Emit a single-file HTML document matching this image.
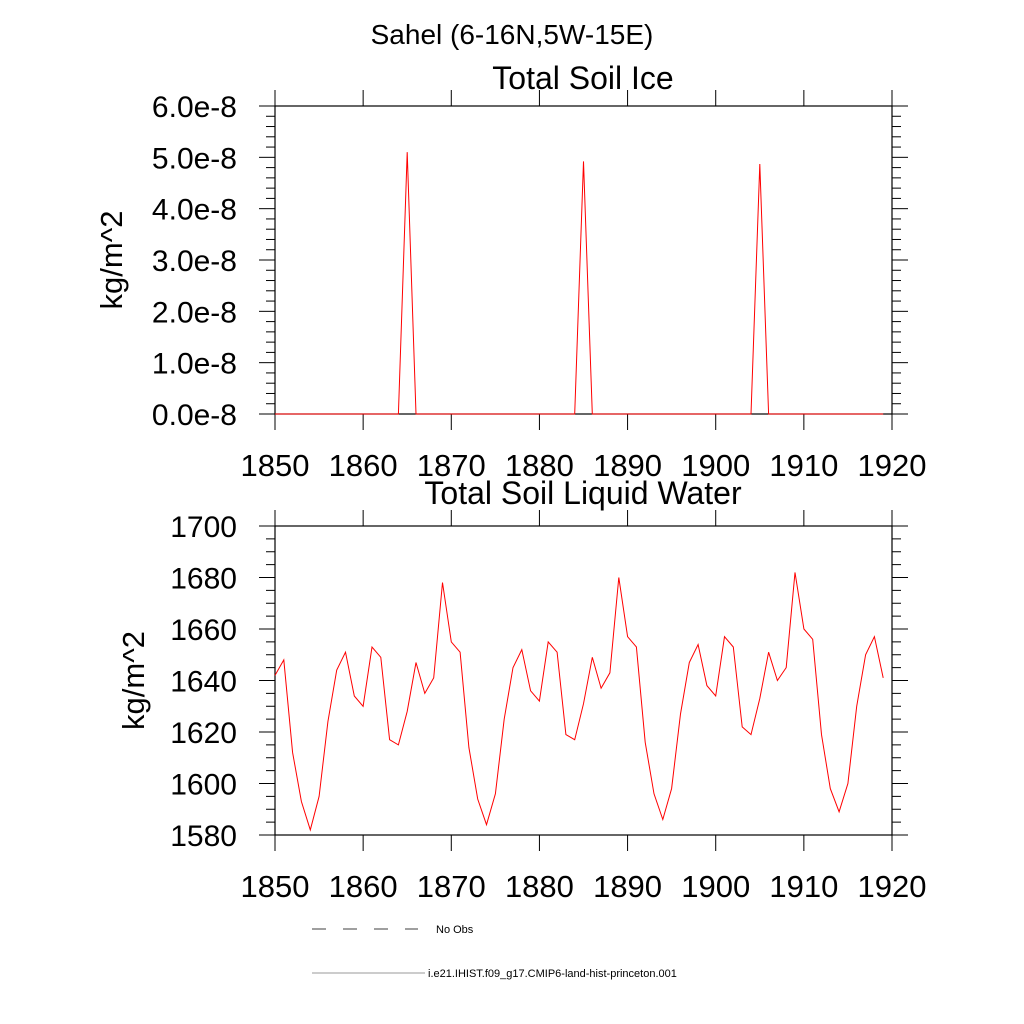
<!DOCTYPE html>
<html><head><meta charset="utf-8"><style>body{margin:0;background:#fff}svg{display:block}text{font-family:"Liberation Sans",sans-serif}</style></head>
<body>
<svg id="c" width="1024" height="1024" xmlns="http://www.w3.org/2000/svg">
<text x="512" y="44" font-size="28" text-anchor="middle">Sahel (6-16N,5W-15E)</text>
<text x="583" y="89" font-size="32" text-anchor="middle">Total Soil Ice</text>
<text x="583" y="504" font-size="32" text-anchor="middle">Total Soil Liquid Water</text>
<line x1="312" y1="929" x2="418" y2="929" stroke="#000" stroke-width="0.8" stroke-dasharray="14,17"/>
<text x="436" y="933" font-size="11">No Obs</text>
<line x1="312" y1="973" x2="425" y2="973" stroke="#999" stroke-width="1"/>
<text x="428" y="977" font-size="11">i.e21.IHIST.f09_g17.CMIP6-land-hist-princeton.001</text>
</svg>
<script>
const years = [];
for (let y = 1850; y <= 1919; y++) years.push(y);
const iceValues = years.map(y => y===1865?5.1:y===1885?4.92:y===1905?4.87:0);
const waterValues = [1642,1648,1612,1593,1582,1595,1624,1644,1651,1634,1630,1653,1649,1617,1615,1628,1647,1635,1641,1678,1655,1651,1614,1594,1584,1596,1625,1645,1652,1636,1632,1655,1651,1619,1617,1631,1649,1637,1643,1680,1657,1653,1616,1596,1586,1598,1627,1647,1654,1638,1634,1657,1653,1622,1619,1633,1651,1640,1645,1682,1660,1656,1619,1598,1589,1600,1630,1650,1657,1641];
const xTicks = [1850,1860,1870,1880,1890,1900,1910,1920];
const iceTicks = ["0.0e-8","1.0e-8","2.0e-8","3.0e-8","4.0e-8","5.0e-8","6.0e-8"];
const waterTicks = [1580,1600,1620,1640,1660,1680,1700];
const svg = document.getElementById('c');
const NS = 'http://www.w3.org/2000/svg';
function mk(tag, attrs, txt) {
  const e = document.createElementNS(NS, tag);
  for (const k in attrs) e.setAttribute(k, attrs[k]);
  if (txt !== undefined) e.textContent = txt;
  svg.appendChild(e);
  return e;
}
const L = 275, R = 892;
const xs = v => L + (v - 1850) / 70 * (R - L);
function panel(name, top, bot, ymin, ymax, minorStep, majorStep, labels, vals, ytitleX) {
  const ys = v => bot - (v - ymin) / (ymax - ymin) * (bot - top);
  const f = mk('rect', {x:L, y:top, width:R-L, height:bot-top, fill:'none', stroke:'#000', 'stroke-width':1.2});
  
  
  for (let v = ymin; v <= ymax + 1e-9; v += minorStep) {
    const y = ys(v);
    const major = Math.abs(((v - ymin) / majorStep) - Math.round((v - ymin) / majorStep)) < 1e-6;
    const len = major ? 16 : 9;
    const t1 = mk('line', {x1:L-len, y1:y, x2:L, y2:y, stroke:'#000', 'stroke-width':1});
    
    
    const t2 = mk('line', {x1:R, y1:y, x2:R+len, y2:y, stroke:'#000', 'stroke-width':1});
    
    
  }
  labels.forEach((lab, i) => {
    const t = mk('text', {x:237, y:ys(ymin + i*majorStep)+11, 'font-size':30, 'text-anchor':'end'}, lab);
    
    
  });
  xTicks.forEach(v => {
    const x = xs(v);
    const a = mk('line', {x1:x, y1:top-16, x2:x, y2:top, stroke:'#000', 'stroke-width':1});
    
    
    const b = mk('line', {x1:x, y1:bot, x2:x, y2:bot+16, stroke:'#000', 'stroke-width':1});
    
    
    const t = mk('text', {x:x, y:bot+62, 'font-size':31, 'text-anchor':'middle'}, v);
    
    
  });
  const cy = (top + bot) / 2;
  const yt = mk('text', {x:ytitleX, y:cy, 'font-size':31, 'text-anchor':'middle', transform:`rotate(-90 ${ytitleX} ${cy})`}, 'kg/m^2');
  
  
  const pts = vals.map((v, i) => xs(years[i]).toFixed(1) + ',' + ys(v).toFixed(1)).join(' ');
  const pl = mk('polyline', {points:pts, fill:'none', stroke:'#f00', 'stroke-width':1});
  
  
}
panel('ice', 106, 414, 0, 6, 0.2, 1, iceTicks, iceValues, 122);
panel('water', 526, 835, 1580, 1700, 5, 20, waterTicks.map(String), waterValues, 144);
</script>
</body></html>
